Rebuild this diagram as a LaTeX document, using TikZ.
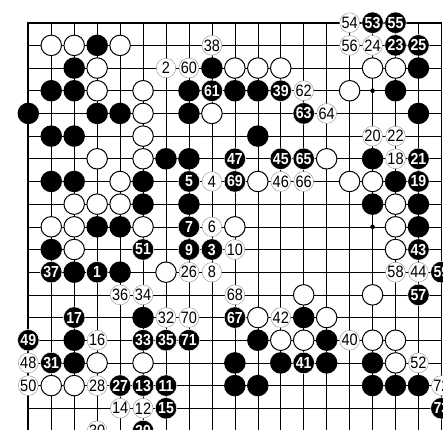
\documentclass[tikz,border=0pt]{standalone}
\usepackage{fontspec}
\newfontfamily\gofont{Liberation Sans}[FakeStretch=0.88]

\begin{document}
\begin{tikzpicture}[x=22.95pt, y=-22.68pt,
    bstone/.style={circle, fill=black, minimum size=21.5pt, inner sep=0pt},
    wstone/.style={circle, draw=black, line width=1pt, fill=white, minimum size=20.5pt, inner sep=0pt},
    bmove/.style={bstone, draw=white, line width=0.5pt, text=white, font=\gofont\bfseries\fontsize{16}{16}\selectfont},
    wmove/.style={circle, fill=white, draw=black!45, line width=0.4pt, minimum size=19.5pt, inner sep=0pt, font=\gofont\fontsize{16.5}{16.5}\selectfont}]
    \useasboundingbox (-28.3pt,22.7pt) rectangle (414.7pt,-406.3pt);
    % board
    \foreach \i in {0,...,18} {
      \draw[line width=0.6pt] (\i,0) -- (\i,18);
      \draw[line width=0.6pt] (0,\i) -- (18,\i);
    }
    \draw[line width=1.7pt] (0,18) -- (0,0) -- (18,0) -- (18,18);
    \foreach \c in {3,9,15}
      \foreach \r in {3,9,15}
        \fill (\c,\r) circle (2.3pt);
    % stones on the board before the game record
    \foreach \c/\r in {3/1, 2/2, 8/2, 17/2, 1/3, 2/3, 7/3, 9/3, 10/3, 16/3,
        0/4, 3/4, 4/4, 7/4, 17/4, 1/5, 2/5, 10/5, 6/6, 7/6, 15/6,
        1/7, 2/7, 5/7, 16/7, 5/8, 7/8, 15/8, 17/8, 3/9, 4/9, 17/9,
        1/10, 2/11, 4/11, 5/13, 12/13, 2/14, 10/14, 13/14,
        2/15, 9/15, 11/15, 13/15, 15/15, 9/16, 10/16, 15/16, 16/16, 17/16}
      \node[bstone] (b\c-\r) at (\c,\r) {};
    \foreach \c/\r in {1/1, 2/1, 4/1, 3/2, 9/2, 10/2, 11/2, 15/2, 16/2,
        3/3, 5/3, 14/3, 5/4, 8/4, 5/5, 3/6, 5/6, 13/6,
        4/7, 10/7, 14/7, 15/7, 2/8, 3/8, 4/8, 16/8,
        1/9, 2/9, 5/9, 9/9, 16/9, 2/10, 16/10, 6/11, 12/12, 15/12,
        10/13, 13/13, 11/14, 12/14, 15/14, 16/14, 3/15, 5/15, 16/15, 1/16, 2/16}
      \node[wstone] (w\c-\r) at (\c,\r) {};
    % moves, black
    \foreach \c/\r/\n in {3/11/1, 8/10/3, 7/7/5, 7/9/7, 7/10/9, 6/16/11, 5/16/13,
        6/17/15, 2/13/17, 17/7/19, 17/6/21, 16/1/23, 17/1/25, 4/16/27, 5/18/29,
        1/15/31, 5/14/33, 6/14/35, 1/11/37, 11/3/39, 12/15/41, 17/10/43,
        11/6/45, 9/6/47, 0/14/49, 5/10/51, 15/0/53, 16/0/55, 17/12/57,
        18/11/59, 8/3/61, 12/4/63, 12/6/65, 9/13/67, 9/7/69, 7/14/71, 18/17/73}
      \node[bmove] (m\n) at (\c,\r) {\n};
    % moves, white
    \foreach \c/\r/\n in {6/2/2, 8/7/4, 8/9/6, 8/11/8, 9/10/10, 5/17/12, 4/17/14,
        3/14/16, 16/6/18, 15/5/20, 16/5/22, 15/1/24, 7/11/26, 3/16/28, 3/18/30,
        6/13/32, 5/12/34, 4/12/36, 8/1/38, 14/14/40, 11/13/42, 17/11/44,
        11/7/46, 0/15/48, 0/16/50, 17/15/52, 14/0/54, 14/1/56, 16/11/58,
        7/2/60, 12/3/62, 13/4/64, 12/7/66, 9/12/68, 7/13/70, 18/16/72}
      \node[wmove] (m\n) at (\c,\r) {\n};
\end{tikzpicture}
\end{document}
